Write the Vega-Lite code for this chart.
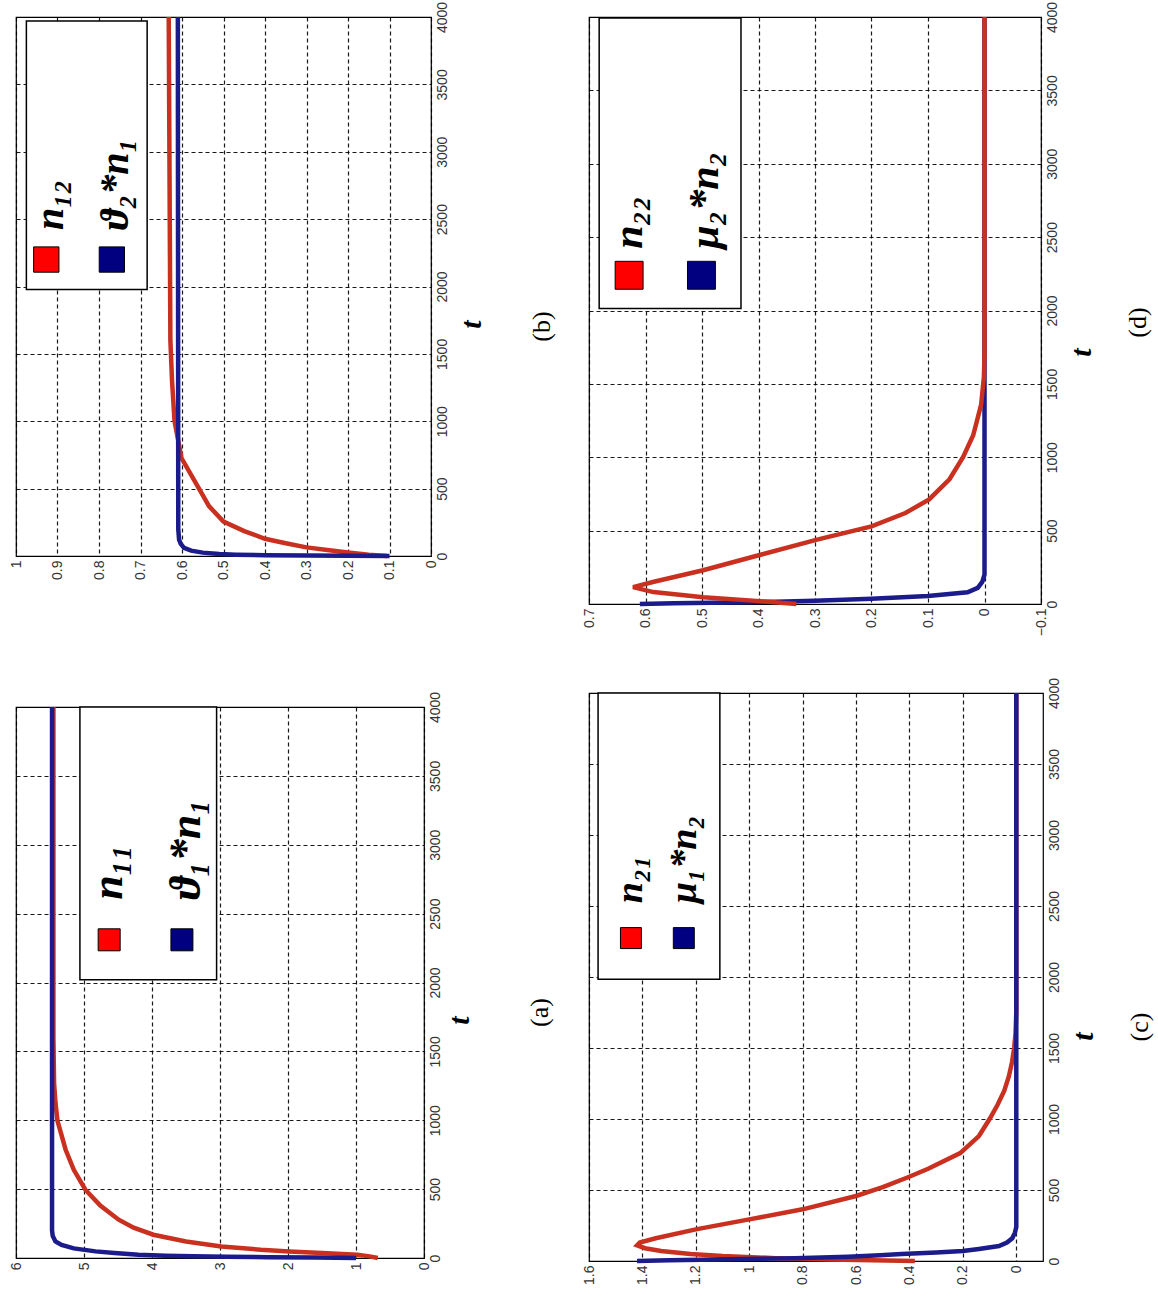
{
  "$schema": "https://vega.github.io/schema/vega-lite/v6.json",
  "padding": {"left": 8, "top": 0, "right": 0, "bottom": 0},
  "background": "white",
  "spacing": 25,
  "config": {
    "view": {"stroke": "black", "strokeWidth": 1.2},
    "axis": {"grid": true, "gridColor": "#000000", "gridDash": [4, 3], "gridOpacity": 0.9, "gridWidth": 1.2, "domain": false, "ticks": false, "labelFont": "Liberation Sans", "labelFontSize": 14, "labelColor": "#333333", "labelPadding": 4, "titleFont": "Liberation Serif", "titleFontStyle": "italic", "titleFontWeight": "bold", "titleFontSize": 30, "titleColor": "black", "titleBaseline": "middle", "titleAlign": "center"},
    "title": {"font": "Liberation Serif", "fontSize": 26, "fontWeight": "normal", "color": "black"},
    "text": {"font": "Liberation Serif", "fontStyle": "italic", "fontWeight": "bold", "angle": -90, "align": "left", "baseline": "middle", "color": "black"}
  },
  "datasets": {
    "a": [
      {"k": "n", "t": 0, "v": 0.68}, {"k": "n", "t": 12, "v": 0.8}, {"k": "n", "t": 24, "v": 0.98}, {"k": "n", "t": 36, "v": 1.5}, {"k": "n", "t": 48, "v": 1.98}, {"k": "n", "t": 60, "v": 2.4}, {"k": "n", "t": 84, "v": 2.98}, {"k": "n", "t": 120, "v": 3.5}, {"k": "n", "t": 169, "v": 3.98}, {"k": "n", "t": 220, "v": 4.27}, {"k": "n", "t": 278, "v": 4.49}, {"k": "n", "t": 380, "v": 4.76}, {"k": "n", "t": 496, "v": 4.98}, {"k": "n", "t": 640, "v": 5.15}, {"k": "n", "t": 786, "v": 5.27}, {"k": "n", "t": 996, "v": 5.39}, {"k": "n", "t": 1130, "v": 5.42}, {"k": "n", "t": 1270, "v": 5.44}, {"k": "n", "t": 1600, "v": 5.45}, {"k": "n", "t": 4000, "v": 5.45},
      {"k": "m", "t": 0, "v": 1.0}, {"k": "m", "t": 3, "v": 1.6}, {"k": "m", "t": 6, "v": 2.3}, {"k": "m", "t": 9, "v": 2.9}, {"k": "m", "t": 12, "v": 3.4}, {"k": "m", "t": 16, "v": 3.8}, {"k": "m", "t": 24, "v": 4.2}, {"k": "m", "t": 36, "v": 4.55}, {"k": "m", "t": 48, "v": 4.83}, {"k": "m", "t": 70, "v": 5.15}, {"k": "m", "t": 95, "v": 5.33}, {"k": "m", "t": 120, "v": 5.42}, {"k": "m", "t": 160, "v": 5.46}, {"k": "m", "t": 200, "v": 5.47}, {"k": "m", "t": 4000, "v": 5.47}
    ],
    "b": [
      {"k": "n", "t": 0, "v": 0.106}, {"k": "n", "t": 10, "v": 0.15}, {"k": "n", "t": 26, "v": 0.2}, {"k": "n", "t": 45, "v": 0.25}, {"k": "n", "t": 64, "v": 0.3}, {"k": "n", "t": 95, "v": 0.35}, {"k": "n", "t": 128, "v": 0.4}, {"k": "n", "t": 185, "v": 0.45}, {"k": "n", "t": 255, "v": 0.5}, {"k": "n", "t": 370, "v": 0.535}, {"k": "n", "t": 500, "v": 0.559}, {"k": "n", "t": 725, "v": 0.601}, {"k": "n", "t": 1000, "v": 0.618}, {"k": "n", "t": 1300, "v": 0.624}, {"k": "n", "t": 1600, "v": 0.628}, {"k": "n", "t": 4000, "v": 0.632},
      {"k": "m", "t": 0, "v": 0.1}, {"k": "m", "t": 2, "v": 0.2}, {"k": "m", "t": 4, "v": 0.3}, {"k": "m", "t": 6, "v": 0.4}, {"k": "m", "t": 10, "v": 0.47}, {"k": "m", "t": 15, "v": 0.51}, {"k": "m", "t": 25, "v": 0.55}, {"k": "m", "t": 40, "v": 0.578}, {"k": "m", "t": 60, "v": 0.595}, {"k": "m", "t": 90, "v": 0.603}, {"k": "m", "t": 120, "v": 0.607}, {"k": "m", "t": 200, "v": 0.609}, {"k": "m", "t": 4000, "v": 0.61}
    ],
    "c": [
      {"k": "n", "t": 0, "v": 0.38}, {"k": "n", "t": 10, "v": 0.7}, {"k": "n", "t": 20, "v": 0.9}, {"k": "n", "t": 35, "v": 1.1}, {"k": "n", "t": 50, "v": 1.22}, {"k": "n", "t": 70, "v": 1.33}, {"k": "n", "t": 90, "v": 1.39}, {"k": "n", "t": 110, "v": 1.42}, {"k": "n", "t": 130, "v": 1.41}, {"k": "n", "t": 160, "v": 1.35}, {"k": "n", "t": 223, "v": 1.2}, {"k": "n", "t": 293, "v": 1.0}, {"k": "n", "t": 364, "v": 0.8}, {"k": "n", "t": 458, "v": 0.6}, {"k": "n", "t": 520, "v": 0.5}, {"k": "n", "t": 586, "v": 0.41}, {"k": "n", "t": 650, "v": 0.33}, {"k": "n", "t": 760, "v": 0.21}, {"k": "n", "t": 880, "v": 0.14}, {"k": "n", "t": 1000, "v": 0.1}, {"k": "n", "t": 1100, "v": 0.07}, {"k": "n", "t": 1200, "v": 0.045}, {"k": "n", "t": 1300, "v": 0.028}, {"k": "n", "t": 1400, "v": 0.016}, {"k": "n", "t": 1500, "v": 0.008}, {"k": "n", "t": 1600, "v": 0.003}, {"k": "n", "t": 1750, "v": 0}, {"k": "n", "t": 4000, "v": 0},
      {"k": "m", "t": 0, "v": 1.42}, {"k": "m", "t": 5, "v": 1.3}, {"k": "m", "t": 10, "v": 1.12}, {"k": "m", "t": 15, "v": 0.96}, {"k": "m", "t": 20, "v": 0.83}, {"k": "m", "t": 30, "v": 0.63}, {"k": "m", "t": 40, "v": 0.51}, {"k": "m", "t": 50, "v": 0.43}, {"k": "m", "t": 60, "v": 0.3}, {"k": "m", "t": 70, "v": 0.2}, {"k": "m", "t": 85, "v": 0.14}, {"k": "m", "t": 105, "v": 0.065}, {"k": "m", "t": 130, "v": 0.035}, {"k": "m", "t": 160, "v": 0.015}, {"k": "m", "t": 200, "v": 0.005}, {"k": "m", "t": 240, "v": 0}, {"k": "m", "t": 4000, "v": 0}
    ],
    "d": [
      {"k": "n", "t": 0, "v": 0.333}, {"k": "n", "t": 23, "v": 0.41}, {"k": "n", "t": 46, "v": 0.498}, {"k": "n", "t": 81, "v": 0.586}, {"k": "n", "t": 115, "v": 0.622}, {"k": "n", "t": 150, "v": 0.587}, {"k": "n", "t": 230, "v": 0.498}, {"k": "n", "t": 334, "v": 0.398}, {"k": "n", "t": 437, "v": 0.298}, {"k": "n", "t": 529, "v": 0.2}, {"k": "n", "t": 620, "v": 0.14}, {"k": "n", "t": 713, "v": 0.098}, {"k": "n", "t": 850, "v": 0.062}, {"k": "n", "t": 1000, "v": 0.038}, {"k": "n", "t": 1150, "v": 0.02}, {"k": "n", "t": 1357, "v": 0.006}, {"k": "n", "t": 1550, "v": 0.001}, {"k": "n", "t": 1700, "v": 0}, {"k": "n", "t": 4000, "v": 0},
      {"k": "m", "t": 0, "v": 0.61}, {"k": "m", "t": 5, "v": 0.55}, {"k": "m", "t": 10, "v": 0.45}, {"k": "m", "t": 15, "v": 0.37}, {"k": "m", "t": 22, "v": 0.3}, {"k": "m", "t": 35, "v": 0.2}, {"k": "m", "t": 55, "v": 0.1}, {"k": "m", "t": 80, "v": 0.03}, {"k": "m", "t": 110, "v": 0.012}, {"k": "m", "t": 150, "v": 0.004}, {"k": "m", "t": 200, "v": 0}, {"k": "m", "t": 4000, "v": 0}
    ]
  },
  "hconcat": [
    {
      "spacing": 109,
      "vconcat": [
        {
          "width": 415, "height": 539,
          "title": {"text": "(b)", "orient": "right", "angle": -90, "offset": 17, "dx": -40},
          "layer": [
            {
              "data": {"name": "b"},
              "transform": [{"filter": "datum.k == 'n'"}],
              "mark": {"type": "line", "color": "#c9301f", "strokeWidth": 4.5},
              "encoding": {
                "x": {"field": "v", "type": "quantitative", "scale": {"domain": [0, 1], "reverse": true, "nice": false, "zero": false}, "axis": {"orient": "bottom", "values": [0, 0.1, 0.2, 0.3, 0.4, 0.5, 0.6, 0.7, 0.8, 0.9, 1], "format": "~g", "labelAngle": -90, "title": null}},
                "y": {"field": "t", "type": "quantitative", "scale": {"domain": [0, 4000], "nice": false}, "axis": {"orient": "right", "values": [0, 500, 1000, 1500, 2000, 2500, 3000, 3500, 4000], "format": "d", "labelAngle": -90, "title": "t", "titleAngle": -90, "titleX": 40, "titleY": 307}},
                "order": {"field": "t", "type": "quantitative"}
              }
            },
            {
              "data": {"name": "b"},
              "transform": [{"filter": "datum.k == 'm'"}],
              "mark": {"type": "line", "color": "#1b1b8c", "strokeWidth": 4.5},
              "encoding": {"x": {"field": "v", "type": "quantitative"}, "y": {"field": "t", "type": "quantitative"}, "order": {"field": "t", "type": "quantitative"}}
            },
            {
              "data": {"values": [{}]},
              "mark": {"type": "rect", "fill": "white", "stroke": "black", "strokeWidth": 1.5},
              "encoding": {"x": {"datum": 0.975, "type": "quantitative"}, "x2": {"datum": 0.684}, "y": {"datum": 1977, "type": "quantitative"}, "y2": {"datum": 3970}}
            },
            {
              "data": {"values": [{}]},
              "mark": {"type": "point", "shape": "square", "filled": true, "fill": "#ff0000", "stroke": "black", "strokeWidth": 1, "size": 640, "opacity": 1},
              "encoding": {"x": {"datum": 0.927, "type": "quantitative"}, "y": {"datum": 2200, "type": "quantitative"}}
            },
            {
              "data": {"values": [{}]},
              "mark": {"type": "point", "shape": "square", "filled": true, "fill": "#000080", "stroke": "black", "strokeWidth": 1, "size": 640, "opacity": 1},
              "encoding": {"x": {"datum": 0.769, "type": "quantitative"}, "y": {"datum": 2200, "type": "quantitative"}}
            },
            {
              "data": {"values": [{}]},
              "mark": {"type": "text", "text": "n₁₂", "fontSize": 40},
              "encoding": {"x": {"datum": 0.915, "type": "quantitative"}, "y": {"datum": 2420, "type": "quantitative"}}
            },
            {
              "data": {"values": [{}]},
              "mark": {"type": "text", "text": "ϑ₂*n₁", "fontSize": 40},
              "encoding": {"x": {"datum": 0.76, "type": "quantitative"}, "y": {"datum": 2420, "type": "quantitative"}}
            }
          ]
        },
        {
          "width": 408, "height": 551,
          "title": {"text": "(a)", "orient": "right", "angle": -90, "offset": 27, "dx": -30},
          "layer": [
            {
              "data": {"name": "a"},
              "transform": [{"filter": "datum.k == 'n'"}],
              "mark": {"type": "line", "color": "#c9301f", "strokeWidth": 4.5},
              "encoding": {
                "x": {"field": "v", "type": "quantitative", "scale": {"domain": [0, 6], "reverse": true, "nice": false, "zero": false}, "axis": {"orient": "bottom", "values": [0, 1, 2, 3, 4, 5, 6], "format": "~g", "labelAngle": -90, "title": null}},
                "y": {"field": "t", "type": "quantitative", "scale": {"domain": [0, 4000], "nice": false}, "axis": {"orient": "right", "values": [0, 500, 1000, 1500, 2000, 2500, 3000, 3500, 4000], "format": "d", "labelAngle": -90, "title": "t", "titleAngle": -90, "titleX": 35, "titleY": 313}},
                "order": {"field": "t", "type": "quantitative"}
              }
            },
            {
              "data": {"name": "a"},
              "transform": [{"filter": "datum.k == 'm'"}],
              "mark": {"type": "line", "color": "#1b1b8c", "strokeWidth": 4.5},
              "encoding": {"x": {"field": "v", "type": "quantitative"}, "y": {"field": "t", "type": "quantitative"}, "order": {"field": "t", "type": "quantitative"}}
            },
            {
              "data": {"values": [{}]},
              "mark": {"type": "rect", "fill": "white", "stroke": "black", "strokeWidth": 1.5},
              "encoding": {"x": {"datum": 5.06, "type": "quantitative"}, "x2": {"datum": 3.05}, "y": {"datum": 2020, "type": "quantitative"}, "y2": {"datum": 4000}}
            },
            {
              "data": {"values": [{}]},
              "mark": {"type": "point", "shape": "square", "filled": true, "fill": "#ff0000", "stroke": "black", "strokeWidth": 1, "size": 484, "opacity": 1},
              "encoding": {"x": {"datum": 4.63, "type": "quantitative"}, "y": {"datum": 2310, "type": "quantitative"}}
            },
            {
              "data": {"values": [{}]},
              "mark": {"type": "point", "shape": "square", "filled": true, "fill": "#000080", "stroke": "black", "strokeWidth": 1, "size": 484, "opacity": 1},
              "encoding": {"x": {"datum": 3.56, "type": "quantitative"}, "y": {"datum": 2310, "type": "quantitative"}}
            },
            {
              "data": {"values": [{}]},
              "mark": {"type": "text", "text": "n₁₁", "fontSize": 44},
              "encoding": {"x": {"datum": 4.63, "type": "quantitative"}, "y": {"datum": 2600, "type": "quantitative"}}
            },
            {
              "data": {"values": [{}]},
              "mark": {"type": "text", "text": "ϑ₁*n₁", "fontSize": 44},
              "encoding": {"x": {"datum": 3.49, "type": "quantitative"}, "y": {"datum": 2600, "type": "quantitative"}}
            }
          ]
        }
      ]
    },
    {
      "spacing": 39,
      "vconcat": [
        {
          "width": 452, "height": 587,
          "title": {"text": "(d)", "orient": "right", "angle": -90, "offset": 3, "dx": -12},
          "layer": [
            {
              "data": {"name": "d"},
              "transform": [{"filter": "datum.k == 'm'"}],
              "mark": {"type": "line", "color": "#1b1b8c", "strokeWidth": 4.5},
              "encoding": {
                "x": {"field": "v", "type": "quantitative", "scale": {"domain": [-0.1, 0.7], "reverse": true, "nice": false, "zero": false}, "axis": {"orient": "bottom", "values": [-0.1, 0, 0.1, 0.2, 0.3, 0.4, 0.5, 0.6, 0.7], "format": "~g", "labelAngle": -90, "title": null}},
                "y": {"field": "t", "type": "quantitative", "scale": {"domain": [0, 4000], "nice": false}, "axis": {"orient": "right", "values": [0, 500, 1000, 1500, 2000, 2500, 3000, 3500, 4000], "format": "d", "labelAngle": -90, "title": "t", "titleAngle": -90, "titleX": 40, "titleY": 335}},
                "order": {"field": "t", "type": "quantitative"}
              }
            },
            {
              "data": {"name": "d"},
              "transform": [{"filter": "datum.k == 'n'"}],
              "mark": {"type": "line", "color": "#c9301f", "strokeWidth": 4.5},
              "encoding": {"x": {"field": "v", "type": "quantitative"}, "y": {"field": "t", "type": "quantitative"}, "order": {"field": "t", "type": "quantitative"}}
            },
            {
              "data": {"values": [{}]},
              "mark": {"type": "rect", "fill": "white", "stroke": "black", "strokeWidth": 1.5},
              "encoding": {"x": {"datum": 0.682, "type": "quantitative"}, "x2": {"datum": 0.431}, "y": {"datum": 2013, "type": "quantitative"}, "y2": {"datum": 3993}}
            },
            {
              "data": {"values": [{}]},
              "mark": {"type": "point", "shape": "square", "filled": true, "fill": "#ff0000", "stroke": "black", "strokeWidth": 1, "size": 780, "opacity": 1},
              "encoding": {"x": {"datum": 0.629, "type": "quantitative"}, "y": {"datum": 2240, "type": "quantitative"}}
            },
            {
              "data": {"values": [{}]},
              "mark": {"type": "point", "shape": "square", "filled": true, "fill": "#000080", "stroke": "black", "strokeWidth": 1, "size": 780, "opacity": 1},
              "encoding": {"x": {"datum": 0.501, "type": "quantitative"}, "y": {"datum": 2240, "type": "quantitative"}}
            },
            {
              "data": {"values": [{}]},
              "mark": {"type": "text", "text": "n₂₂", "fontSize": 42},
              "encoding": {"x": {"datum": 0.629, "type": "quantitative"}, "y": {"datum": 2420, "type": "quantitative"}}
            },
            {
              "data": {"values": [{}]},
              "mark": {"type": "text", "text": "μ₂*n₂", "fontSize": 42},
              "encoding": {"x": {"datum": 0.495, "type": "quantitative"}, "y": {"datum": 2420, "type": "quantitative"}}
            }
          ]
        },
        {
          "width": 454, "height": 568,
          "title": {"text": "(c)", "orient": "right", "angle": -90, "offset": 3, "dx": -50},
          "layer": [
            {
              "data": {"name": "c"},
              "transform": [{"filter": "datum.k == 'n'"}],
              "mark": {"type": "line", "color": "#c9301f", "strokeWidth": 4.5},
              "encoding": {
                "x": {"field": "v", "type": "quantitative", "scale": {"domain": [-0.1, 1.6], "reverse": true, "nice": false, "zero": false}, "axis": {"orient": "bottom", "values": [0, 0.2, 0.4, 0.6, 0.8, 1, 1.2, 1.4, 1.6], "format": "~g", "labelAngle": -90, "title": null}},
                "y": {"field": "t", "type": "quantitative", "scale": {"domain": [0, 4000], "nice": false}, "axis": {"orient": "right", "values": [0, 500, 1000, 1500, 2000, 2500, 3000, 3500, 4000], "format": "d", "labelAngle": -90, "title": "t", "titleAngle": -90, "titleX": 40, "titleY": 343}},
                "order": {"field": "t", "type": "quantitative"}
              }
            },
            {
              "data": {"name": "c"},
              "transform": [{"filter": "datum.k == 'm'"}],
              "mark": {"type": "line", "color": "#1b1b8c", "strokeWidth": 4.5},
              "encoding": {"x": {"field": "v", "type": "quantitative"}, "y": {"field": "t", "type": "quantitative"}, "order": {"field": "t", "type": "quantitative"}}
            },
            {
              "data": {"values": [{}]},
              "mark": {"type": "rect", "fill": "white", "stroke": "black", "strokeWidth": 1.5},
              "encoding": {"x": {"datum": 1.566, "type": "quantitative"}, "x2": {"datum": 1.11}, "y": {"datum": 1985, "type": "quantitative"}, "y2": {"datum": 4000}}
            },
            {
              "data": {"values": [{}]},
              "mark": {"type": "point", "shape": "square", "filled": true, "fill": "#ff0000", "stroke": "black", "strokeWidth": 1, "size": 440, "opacity": 1},
              "encoding": {"x": {"datum": 1.443, "type": "quantitative"}, "y": {"datum": 2274, "type": "quantitative"}}
            },
            {
              "data": {"values": [{}]},
              "mark": {"type": "point", "shape": "square", "filled": true, "fill": "#000080", "stroke": "black", "strokeWidth": 1, "size": 440, "opacity": 1},
              "encoding": {"x": {"datum": 1.245, "type": "quantitative"}, "y": {"datum": 2274, "type": "quantitative"}}
            },
            {
              "data": {"values": [{}]},
              "mark": {"type": "text", "text": "n₂₁", "fontSize": 38},
              "encoding": {"x": {"datum": 1.443, "type": "quantitative"}, "y": {"datum": 2520, "type": "quantitative"}}
            },
            {
              "data": {"values": [{}]},
              "mark": {"type": "text", "text": "μ₁*n₂", "fontSize": 38},
              "encoding": {"x": {"datum": 1.24, "type": "quantitative"}, "y": {"datum": 2520, "type": "quantitative"}}
            }
          ]
        }
      ]
    }
  ]
}
